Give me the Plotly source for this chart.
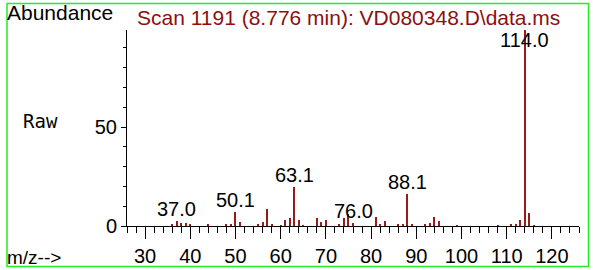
import plotly.graph_objects as go

# ---- data ----
mz = [36, 37, 38, 39, 40, 44, 48, 49, 50, 51, 55, 56, 57, 58, 60, 61, 62, 63, 64, 65,
      68, 69, 70, 73, 74, 75, 76, 81, 82, 83, 86, 87, 88, 89, 92, 93, 94, 95, 99,
      108, 111, 112, 113, 114, 115, 116]
abundance = [1.0, 2.5, 1.7, 1.7, 0.7, 0.7, 0.8, 0.8, 7.0, 2.0, 0.7, 2.1, 8.8, 0.7, 0.5, 2.8, 3.8, 19.5, 2.8, 0.5,
             3.8, 2.1, 2.8, 0.7, 3.8, 6.0, 1.5, 4.7, 0.7, 2.5, 0.7, 0.7, 16.4, 0.7, 0.7, 1.7, 4.7, 2.5, 0.3,
             0.4, 0.8, 1.0, 2.8, 99.0, 6.7, 0.4]
label_mz = [37, 50, 63, 76, 88, 114]
label_text = ["37.0", "50.1", "63.1", "76.0", "88.1", "114.0"]
x_ticks = [30, 40, 50, 60, 70, 80, 90, 100, 110, 120]
y_ticks = [0, 50]
title_text = "Scan 1191 (8.776 min): VD080348.D\\data.ms"

W, H = 593, 270
L, R, T, B = 127, 14, 30, 44
PW, PH = W - L - R, H - T - B


def px(xp):
    return (xp - L) / PW


def py(yp):
    return (H - B - yp) / PH


FONT = "Arial, Liberation Sans, sans-serif"
RED = "#8b1010"

fig = go.Figure()
fig.add_trace(go.Bar(x=mz, y=abundance, width=0.24,
                     marker=dict(color="#9a1a1a", line=dict(width=0)),
                     hoverinfo="skip"))

annotations = []
height_of = dict(zip(mz, abundance))
for m, t in zip(label_mz, label_text):
    h = height_of[m]
    if h > 90:
        annotations.append(dict(x=m, y=h, xref="x", yref="y", text=t, showarrow=False,
                                xanchor="center", yanchor="top", yshift=2, borderpad=0,
                                font=dict(family=FONT, size=20, color="black")))
    else:
        annotations.append(dict(x=m, y=h, xref="x", yref="y", text=t, showarrow=False,
                                xanchor="center", yanchor="bottom", yshift=0, borderpad=0,
                                font=dict(family=FONT, size=20, color="black")))

annotations += [
    dict(x=px(6), y=py(13), xref="paper", yref="paper", text="Abundance", showarrow=False,
         xanchor="left", yanchor="middle", borderpad=0, font=dict(family=FONT, size=21, color="black")),
    dict(x=px(135.5), y=py(17.3), xref="paper", yref="paper", text=title_text, showarrow=False,
         xanchor="left", yanchor="middle", borderpad=0, font=dict(family=FONT, size=21, color=RED)),
    dict(x=px(40), y=py(120.5), xref="paper", yref="paper", text="Raw", showarrow=False,
         xanchor="center", yanchor="middle", borderpad=0,
         font=dict(family="DejaVu Sans Mono, monospace", size=19, color="black")),
    dict(x=px(6), y=py(257.5), xref="paper", yref="paper", text="m/z-->", showarrow=False,
         xanchor="left", yanchor="middle", borderpad=0, font=dict(family=FONT, size=19, color="black")),
]

fig.update_layout(
    width=W, height=H, autosize=False,
    margin=dict(l=L, r=R, t=T, b=B, pad=0, autoexpand=False),
    paper_bgcolor="white", plot_bgcolor="white",
    showlegend=False,
    bargap=0,
    annotations=annotations,
    shapes=[dict(type="rect", xref="paper", yref="paper",
                 x0=px(7), x1=px(588.5), y0=py(266.5), y1=py(3.5),
                 line=dict(color="#22ee22", width=1.5), fillcolor="rgba(0,0,0,0)")],
    xaxis=dict(range=[26, 126], tickvals=x_ticks, ticktext=[str(v) for v in x_ticks],
               ticks="outside", ticklen=12, tickwidth=1, tickcolor="black", automargin=False,
               minor=dict(dtick=2, tick0=0, ticks="outside", ticklen=6, tickwidth=1, tickcolor="black"),
               showline=True, linecolor="black", linewidth=1, showgrid=False, zeroline=False,
               tickfont=dict(family=FONT, size=20, color="black"), fixedrange=True),
    yaxis=dict(range=[0, 99], tickvals=y_ticks, ticktext=[str(v) for v in y_ticks],
               ticks="outside", ticklen=5, tickwidth=1, tickcolor="black", automargin=False,
               minor=dict(dtick=10, tick0=0, ticks="outside", ticklen=3, tickwidth=1, tickcolor="black"),
               showline=True, linecolor="black", linewidth=1, showgrid=False, zeroline=False,
               tickfont=dict(family=FONT, size=20, color="black"), fixedrange=True),
)

fig.write_html("out.html", config={"displayModeBar": False, "responsive": False},
               post_script="document.body.style.margin='0';document.body.style.overflow='hidden';")
